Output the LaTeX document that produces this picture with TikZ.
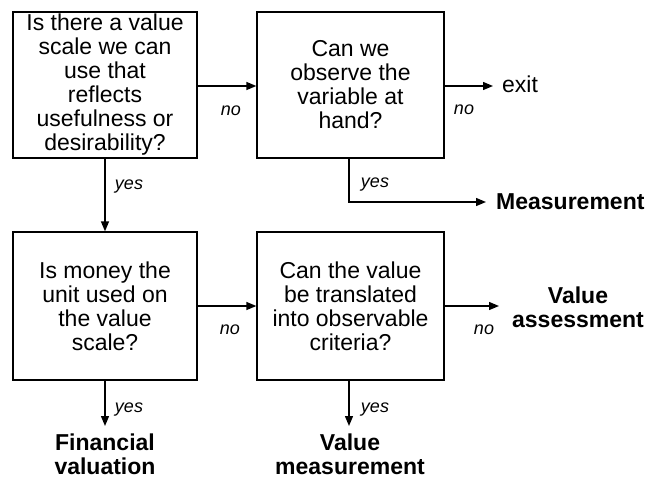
\documentclass[tikz,border=0pt]{standalone}
\usepackage{fontspec}
\setmainfont{Liberation Sans}
\usetikzlibrary{arrows.meta}
\begin{document}
\begin{tikzpicture}[x=1pt,y=-1pt,
  question/.style={draw,line width=1.3pt,align=center,inner sep=0pt,
    font=\fontsize{23}{24}\selectfont},
  outcome/.style={align=center,inner sep=0pt,font=\fontsize{23}{24}\selectfont\bfseries},
  answer/.style={inner sep=0pt,font=\fontsize{18}{20}\selectfont\itshape},
  flow/.style={line width=1.3pt,-{Triangle[length=10pt,width=8pt]}}]
  \useasboundingbox (0,0) rectangle (651,479);

  % decision boxes
  \node[question,minimum width=184pt,minimum height=146pt] (q1) at (105,85)
    {Is there a value\\scale we can\\use that\\reflects\\usefulness or\\desirability?};
  \node[question,minimum width=187pt,minimum height=146pt] (q2) at (350.5,85)
    {Can we\\observe the\\variable at\\hand?};
  \node[question,minimum width=184pt,minimum height=148pt] (q3) at (105,306)
    {Is money the\\unit used on\\the value\\scale?};
  \node[question,minimum width=187pt,minimum height=148pt] (q4) at (350.5,306)
    {Can the value\\be translated\\into observable\\criteria?};

  % end points
  \node[inner sep=0pt,anchor=west,font=\fontsize{23}{24}\selectfont] (exit) at (502,84) {exit};
  \node[outcome,anchor=west] (meas) at (496,202) {Measurement};
  \node[outcome] (fin) at (105,454) {Financial\\valuation};
  \node[outcome] (vmeas) at (350,454) {Value\\measurement};
  \node[outcome] (vass) at (578,307) {Value\\assessment};

  \coordinate (exitend) at (493,86);
  \coordinate (bend) at (349,202);
  \coordinate (measend) at (486,202);
  \coordinate (finend) at (105,426);
  \coordinate (vmeasend) at (349,426);
  \coordinate (vassend) at (499,306);

  % connectors
  \draw[flow] (q1.east |- 0,86) -- (q2.west |- 0,86);
  \draw[flow] (q1.south) -- (q3.north);
  \draw[flow] (q2.east |- exitend) -- (exitend);
  \draw[flow] (q2.south -| bend) -- (bend) -- (measend);
  \draw[flow] (q3.east) -- (q4.west);
  \draw[flow] (q3.south) -- (finend);
  \draw[flow] (q4.east) -- (vassend);
  \draw[flow] (q4.south -| vmeasend) -- (vmeasend);

  % answer labels
  \node[answer] (n1) at (231,111) {no};
  \node[answer] (y1) at (129,187) {yes};
  \node[answer] (n2) at (464,110) {no};
  \node[answer] (y2) at (375,185) {yes};
  \node[answer] (n3) at (230,330) {no};
  \node[answer] (y3) at (129,410) {yes};
  \node[answer] (n4) at (484,330) {no};
  \node[answer] (y4) at (375,410) {yes};
\end{tikzpicture}
\end{document}
